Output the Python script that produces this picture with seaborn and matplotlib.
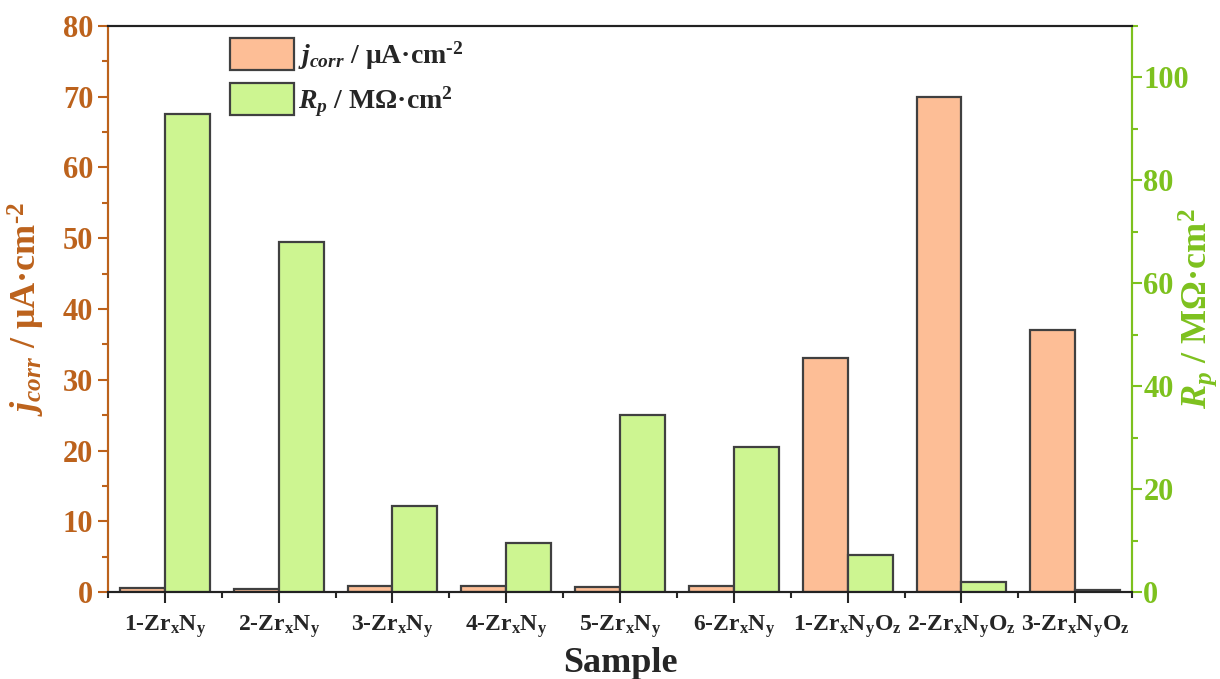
import numpy as np
import pandas as pd
import matplotlib
matplotlib.use("Agg")
import matplotlib.pyplot as plt
import seaborn as sns
from matplotlib.patches import Patch
from matplotlib.ticker import MultipleLocator, FixedLocator

# data
samples = ["1-Zr$_\\mathrm{x}$N$_\\mathrm{y}$", "2-Zr$_\\mathrm{x}$N$_\\mathrm{y}$",
           "3-Zr$_\\mathrm{x}$N$_\\mathrm{y}$", "4-Zr$_\\mathrm{x}$N$_\\mathrm{y}$",
           "5-Zr$_\\mathrm{x}$N$_\\mathrm{y}$", "6-Zr$_\\mathrm{x}$N$_\\mathrm{y}$",
           "1-Zr$_\\mathrm{x}$N$_\\mathrm{y}$O$_\\mathrm{z}$",
           "2-Zr$_\\mathrm{x}$N$_\\mathrm{y}$O$_\\mathrm{z}$",
           "3-Zr$_\\mathrm{x}$N$_\\mathrm{y}$O$_\\mathrm{z}$"]
jcorr = [0.6, 0.5, 0.8, 0.9, 0.7, 0.8, 33.0, 70.0, 37.0]
rp = [92.9, 68.0, 16.7, 9.5, 34.4, 28.2, 7.2, 1.9, 0.4]

c_j = "#FDBE96"
c_r = "#CDF591"
c_jax = "#BC621C"
c_rax = "#7DC11E"
edge = "#404040"

sns.set_style("ticks")
plt.rcParams["font.family"] = ["Liberation Serif", "DejaVu Serif"]
plt.rcParams["font.weight"] = "bold"
plt.rcParams["mathtext.fontset"] = "custom"
plt.rcParams["mathtext.rm"] = "Liberation Serif:bold"
plt.rcParams["mathtext.it"] = "Liberation Serif:italic:bold"
plt.rcParams["mathtext.bf"] = "Liberation Serif:bold"

df = pd.DataFrame({
    "sample": samples * 2,
    "series": ["j"] * len(samples) + ["R"] * len(samples),
    "value": jcorr + rp,
})

fig, ax = plt.subplots(figsize=(12.2, 6.79), dpi=100)
fig.subplots_adjust(left=0.0885, right=0.928, top=0.962, bottom=0.128)
ax2 = ax.twinx()

sns.barplot(data=df[df.series == "j"], x="sample", y="value", hue="series",
            hue_order=["j", "R"], palette={"j": c_j, "R": c_r}, dodge=True,
            width=0.79, order=samples, edgecolor=edge, linewidth=1.6,
            legend=False, ax=ax, errorbar=None, saturation=1)
sns.barplot(data=df[df.series == "R"], x="sample", y="value", hue="series",
            hue_order=["j", "R"], palette={"j": c_j, "R": c_r}, dodge=True,
            width=0.79, order=samples, edgecolor=edge, linewidth=1.6,
            legend=False, ax=ax2, errorbar=None, saturation=1)

ax.set_xlim(-0.5, 8.5)
ax.set_ylim(0, 80)
ax2.set_ylim(0, 110)

ax.yaxis.set_major_locator(MultipleLocator(10))
ax.yaxis.set_minor_locator(MultipleLocator(5))
ax2.yaxis.set_major_locator(FixedLocator([0, 20, 40, 60, 80, 100]))
ax2.yaxis.set_minor_locator(MultipleLocator(10))
ax.xaxis.set_minor_locator(FixedLocator(np.arange(-0.5, 9, 1)))

ax.tick_params(axis="y", colors=c_jax, labelsize=22, length=7, width=1.5, direction="out")
ax.tick_params(axis="y", which="minor", colors=c_jax, length=4, width=1.5)
ax2.tick_params(axis="y", colors=c_rax, labelsize=22, length=7, width=1.5, direction="out", pad=1)
ax2.tick_params(axis="y", which="minor", colors=c_rax, length=4, width=1.5)
ax.tick_params(axis="x", labelsize=17, length=8, width=1.5, direction="out", pad=7)
ax.tick_params(axis="x", which="minor", length=4, width=1.5)

for a in (ax, ax2):
    for s in a.spines.values():
        s.set_linewidth(1.5)
    a.spines["top"].set_color("#222222")
    a.spines["bottom"].set_color("#222222")
    a.spines["left"].set_color(c_jax)
    a.spines["right"].set_color(c_rax)
    a.spines["top"].set_visible(True)
    a.spines["right"].set_visible(True)

for lab in ax.get_xticklabels() + ax.get_yticklabels() + ax2.get_yticklabels():
    lab.set_fontweight("bold")

ax.set_xlabel("Sample", fontsize=26, fontweight="bold", labelpad=5)
ax.set_ylabel("$j_{corr}$ / μA·cm$^{\\text{-2}}$", fontsize=26, fontweight="bold",
              color=c_jax)
ax.yaxis.set_label_coords(-0.06, 0.5)
ax2.set_ylabel("$R_p$ / MΩ·cm$^2$", fontsize=26, fontweight="bold",
               color=c_rax)
ax2.yaxis.set_label_coords(1.043, 0.5)

handles = [Patch(facecolor=c_j, edgecolor=edge, linewidth=1.6),
           Patch(facecolor=c_r, edgecolor=edge, linewidth=1.6)]
ax.legend(handles, ["$j_{corr}$ / μA·cm$^{\\text{-2}}$", "$R_p$ / MΩ·cm$^2$"],
          loc="upper left", bbox_to_anchor=(0.095, 1.022), frameon=False,
          prop={"size": 20, "weight": "bold"}, handlelength=2.3,
          handleheight=1.4, labelspacing=0.4, handletextpad=0.15)

fig.savefig("out.png", dpi=100)
